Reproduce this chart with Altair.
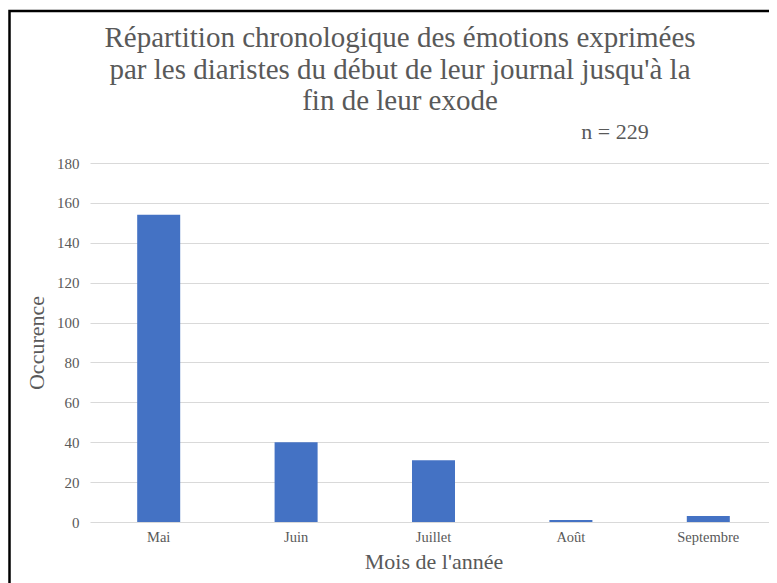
import altair as alt
import pandas as pd

months = ["Mai", "Juin", "Juillet", "Août", "Septembre"]
counts = [154, 40, 31, 1, 3]
title_lines = ["Répartition chronologique des émotions exprimées",
               "par les diaristes du début de leur journal jusqu'à la",
               "fin de leur exode"]
note = "n = 229"
y_ticks = [0, 20, 40, 60, 80, 100, 120, 140, 160, 180]

df = pd.DataFrame({"mois": months, "n": counts})
FONT = "Liberation Serif"
GREY = "#595959"

bars = alt.Chart(df).mark_bar(color="#4472C4").encode(
    x=alt.X("mois:N", sort=months,
            scale=alt.Scale(paddingInner=0.687, paddingOuter=0.3435, range=[0, 687]),
            axis=alt.Axis(title="Mois de l'année", labelAngle=0, domain=False, ticks=False,
                          labelFont=FONT, labelFontSize=14.5, labelColor=GREY, labelPadding=8,
                          titleFont=FONT, titleFontSize=22, titleFontWeight="normal",
                          titleColor=GREY, titlePadding=8)),
    y=alt.Y("n:Q", scale=alt.Scale(domain=[0, 180]),
            axis=alt.Axis(title="Occurence", values=y_ticks, domain=False, ticks=False,
                          gridColor="#d9d9d9", gridWidth=1.2,
                          labelFont=FONT, labelFontSize=15, labelColor=GREY, labelPadding=11,
                          titleFont=FONT, titleFontSize=22, titleFontWeight="normal",
                          titleColor=GREY, titlePadding=8)),
)

title_layer = alt.Chart(pd.DataFrame({"t": [0]})).mark_text(
    font=FONT, fontSize=29, color=GREY, align="center", baseline="alphabetic", lineHeight=31.5
).encode(text=alt.value(title_lines), x=alt.value(310), y=alt.value(-116))

note_layer = alt.Chart(pd.DataFrame({"t": [0]})).mark_text(
    font=FONT, fontSize=22, color=GREY, align="center", baseline="alphabetic"
).encode(text=alt.value(note), x=alt.value(525), y=alt.value(-24))

frame = alt.Chart(pd.DataFrame({"t": [0]})).mark_rect(
    fill=None, fillOpacity=0, stroke="black", strokeWidth=2.5
).encode(x=alt.value(-80.5), x2=alt.value(720), y=alt.value(-152), y2=alt.value(460))

chart = alt.layer(bars, title_layer, note_layer, frame).properties(
    width=679, height=359,
    padding={"left": 82, "top": 155, "right": 0, "bottom": 61},
    autosize=alt.AutoSizeParams(type="none"),
).configure_view(stroke=None)

chart.save("out.html", embed_options={"renderer": "svg", "actions": False})
